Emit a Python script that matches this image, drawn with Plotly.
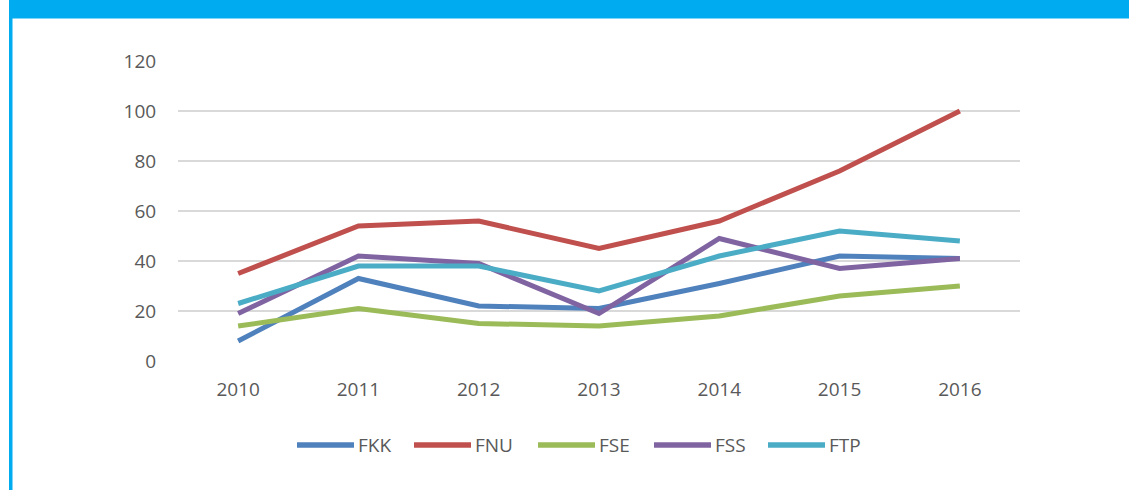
import plotly.graph_objects as go

years = ["2010", "2011", "2012", "2013", "2014", "2015", "2016"]
fkk = [8, 33, 22, 21, 31, 42, 41]
fnu = [35, 54, 56, 45, 56, 76, 100]
fse = [14, 21, 15, 14, 18, 26, 30]
fss = [19, 42, 39, 19, 49, 37, 41]
ftp = [23, 38, 38, 28, 42, 52, 48]

series = [
    ("FKK", fkk, "#4F81BD"),
    ("FNU", fnu, "#C0504D"),
    ("FSE", fse, "#9BBB59"),
    ("FSS", fss, "#8064A2"),
    ("FTP", ftp, "#4BACC6"),
]

W, H = 1129, 490
L, R, T, B = 178, 1020, 61, 361
pw, ph = R - L, B - T

def px(x):
    return (x - L) / pw

def py(y):
    return (B - y) / ph

fig = go.Figure()
for name, vals, color in series:
    fig.add_trace(go.Scatter(x=years, y=vals, name=name, mode="lines",
                             line=dict(color=color, width=5), showlegend=False))

font_fam = "Open Sans, Liberation Sans, sans-serif"

# custom legend (long line samples like the original)
leg_starts = [297, 414, 538, 654, 768]
leg_y = 445
sample_len = 57
shapes = []
annotations = []
for (name, vals, color), x0 in zip(series, leg_starts):
    shapes.append(dict(type="line", xref="paper", yref="paper",
                       x0=px(x0), x1=px(x0 + sample_len), y0=py(leg_y), y1=py(leg_y),
                       line=dict(color=color, width=5.5)))
    annotations.append(dict(xref="paper", yref="paper", x=px(x0 + sample_len + 2), y=py(leg_y),
                            xanchor="left", yanchor="middle", text=name, showarrow=False,
                            font=dict(size=19, color="#595959", family=font_fam)))

shapes += [
    dict(type="rect", xref="paper", yref="paper", x0=px(9), x1=px(1135),
         y0=py(18.5), y1=py(-2), fillcolor="#00ACEF", line=dict(width=0), layer="above"),
    dict(type="rect", xref="paper", yref="paper", x0=px(9), x1=px(12.5),
         y0=py(495), y1=py(18), fillcolor="#00ACEF", line=dict(width=0), layer="above"),
]

fig.update_layout(
    width=W, height=H,
    margin=dict(l=L, r=W - R, t=T, b=H - B, pad=0),
    paper_bgcolor="white", plot_bgcolor="white",
    font=dict(family=font_fam, size=19, color="#595959"),
    showlegend=False,
    xaxis=dict(type="category", range=[-0.5, 6.5], showgrid=False, showline=False,
               zeroline=False, ticks="outside", ticklen=11, tickcolor="rgba(0,0,0,0)",
               tickfont=dict(size=19, color="#595959")),
    yaxis=dict(range=[0, 120], tickvals=[0, 20, 40, 60, 80, 100, 120],
               showgrid=True, gridcolor="#D9D9D9", gridwidth=1.5, zeroline=False,
               showline=False, ticks="outside", ticklen=17, tickcolor="rgba(0,0,0,0)",
               tickfont=dict(size=19, color="#595959")),
    shapes=shapes,
    annotations=annotations,
)

fig.write_html("out.html", config={"displayModeBar": False},
               post_script="document.body.style.margin='0';document.body.style.overflow='hidden';")
